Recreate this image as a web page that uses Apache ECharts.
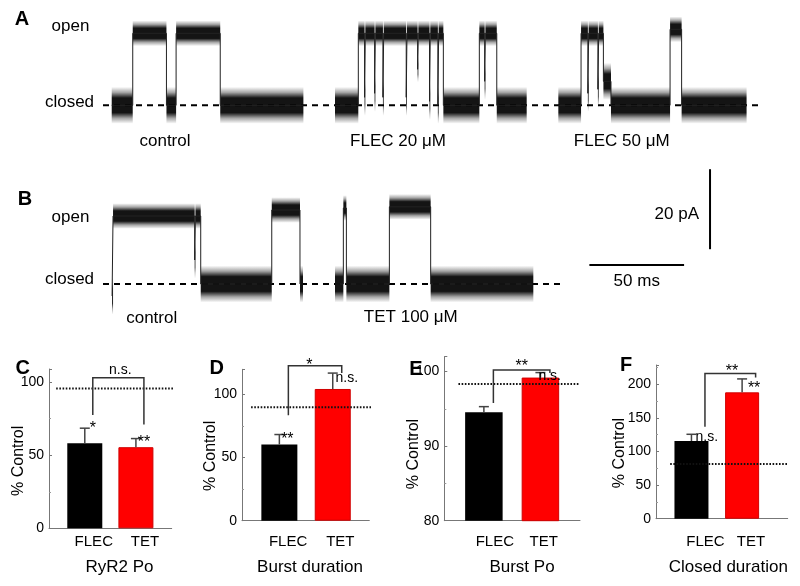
<!DOCTYPE html>
<html><head><meta charset="utf-8">
<script src="https://cdn.jsdelivr.net/npm/echarts@6/dist/echarts.min.js"></script>
<style>html,body{margin:0;padding:0;background:#fff}#c{width:800px;height:586px}</style>
</head><body><div id="c"></div>
<script>
// ---------- DATA ----------
// Single-channel dwell segments: [start (ms), end (ms), current (pA)]
const sweepA_control = [[4.6,15.7,0],[15.7,33.5,18],[33.5,38.6,0],[38.6,61.9,18],[61.9,105.8,0]];
const sweepA_flec20 = [[122.5,134.8,0],[134.8,138.1,18],[138.1,138.5,2],[138.5,143.4,18],[143.4,143.8,3],
  [143.8,147.8,18],[147.8,148.2,2],[148.2,160.1,18],[160.1,160.5,2],[160.5,166.1,18],[166.1,166.5,9],
  [166.5,172.4,18],[172.4,172.8,1],[172.8,176.8,18],[176.8,177.2,0],[177.2,179.7,18],
  [179.7,198.7,0],[198.7,201.5,18],[201.5,201.9,6],[201.9,207.9,18],[207.9,223.7,0]];
const sweepA_flec50 = [[240.4,252.4,0],[252.4,256.0,18],[256.0,256.4,3],[256.4,261.3,18],[261.3,261.7,4],
  [261.7,264.2,18],[264.2,268.2,6],[268.2,299.4,0],[299.4,305.5,19],[305.5,339.8,0]];
const sweepB_control = [[4.8,5.3,-3],[5.3,48.4,17],[48.4,48.8,6],[48.8,51.6,17],[51.6,89.1,0],[89.1,104.0,18.5],[104.0,105.6,0]];
const sweepB_tet100 = [[122.5,126.9,0],[126.9,128.5,19],[128.5,151.2,0],[151.2,173.0,19.3],[173.0,227.2,0]];
const scaleBarCurrent = 20; // pA
const scaleBarTime = 50;    // ms

const barCategories = ['FLEC', 'TET'];
const ryr2PoMean = [58.2, 55.5];
const ryr2PoSEM = [10.3, 5.9];
const ryr2PoRef = 95.6;
const ryr2PoBracket = [103, 77.6, 71];      // [top, left end, right end]
const ryr2PoSig = ['n.s.', '*', '**'];       // [bracket, FLEC, TET]

const burstDurMean = [60.4, 104.4];
const burstDurSEM = [7.9, 12.6];
const burstDurRef = 90;
const burstDurBracket = [122.9, 83.6, 117];
const burstDurSig = ['*', '**', 'n.s.'];

const burstPoMean = [94.55, 99.2];
const burstPoSEM = [0.75, 0.67];
const burstPoRef = 98.35;
const burstPoBracket = [100.2, 95.8, 99.8];
const burstPoSig = ['**', '', 'n.s.'];

const closedDurMean = [115.6, 188];
const closedDurSEM = [10, 20];
const closedDurRef = 81.4;
const closedDurBracket = [216, 137, 210];
const closedDurSig = ['**', 'n.s.', '**'];

// ---------- LAYOUT / STYLE ----------
const FONT = 'Liberation Sans, Arial, Helvetica, sans-serif';
const traceCfg = [
  {grid:{left:103,right:0,top:5.3,height:140}, xmax:368, ymin:-10, ymax:25, baseEnd:347.8,
   sweeps:[sweepA_control, sweepA_flec20, sweepA_flec50]},
  {grid:{left:103,right:0,top:164,height:150}, xmax:368, ymin:-7.5, ymax:30, baseEnd:241.3,
   sweeps:[sweepB_control, sweepB_tet100]}
];
const scaleCfg = {vBarT:320.5, vBarBase:8.7, hBarStart:256.8, hBarY:4.75};

const panels = [
  {grid:{left:49,top:369,width:122.7,height:159.3}, xmax:1.7, ymin:0, ymax:109, interval:50, barW:35,
   mean:ryr2PoMean, sem:ryr2PoSEM, ref:ryr2PoRef, refX:[-0.56,1.76], bracket:ryr2PoBracket, sig:ryr2PoSig,
   bracketDx:8, sigBracketOff:[2,-7.3], sigBarOff:[[8,0.7],[8,4.5]], labelDx:[9,9], labelMargin:6},
  {grid:{left:242,top:369.3,width:127.3,height:151.4}, xmax:1.685, ymin:0, ymax:120, interval:50, barW:36,
   mean:burstDurMean, sem:burstDurSEM, ref:burstDurRef, refX:[-0.53,1.79], bracket:burstDurBracket, sig:burstDurSig,
   bracketDx:9, sigBracketOff:[-5.6,0.4], sigBarOff:[[8,4.7],[14,5]], labelDx:[8.7,7.6], labelMargin:14},
  {grid:{left:444.3,top:356.7,width:135.7,height:164}, xmax:1.70, ymin:80, ymax:102, interval:10, barW:37.5,
   mean:burstPoMean, sem:burstPoSEM, ref:burstPoRef, refX:[-0.45,1.68], bracket:burstPoBracket, sig:burstPoSig,
   bracketDx:9.5, sigBracketOff:[0,-3.5], sigBarOff:[[0,0],[9.3,3.3]], labelDx:[11,3.3], labelMargin:14},
  {grid:{left:656,top:365,width:131.7,height:153.7}, xmax:1.90, ymin:0, ymax:228.7, interval:50, barW:34,
   mean:closedDurMean, sem:closedDurSEM, ref:closedDurRef, refX:[-0.42,1.90], bracket:closedDurBracket, sig:closedDurSig,
   bracketDx:13.5, sigBracketOff:[1.6,-1.8], sigBarOff:[[15.4,2.7],[12,10]], labelDx:[14,8.8], labelMargin:16}
];
const XMIN = -0.7;

// ---------- BUILD OPTION ----------
const grids = [], xAxes = [], yAxes = [], series = [];

function noiseGrad() {
  return new echarts.graphic.LinearGradient(0, 0, 0, 1, [
    {offset:0, color:'rgba(0,0,0,0)'},
    {offset:0.15, color:'rgba(0,0,0,0.35)'},
    {offset:0.3, color:'rgba(0,0,0,0.92)'},
    {offset:0.7, color:'rgba(0,0,0,0.92)'},
    {offset:0.85, color:'rgba(0,0,0,0.35)'},
    {offset:1, color:'rgba(0,0,0,0)'}
  ]);
}

traceCfg.forEach((t, gi) => {
  grids.push(t.grid);
  xAxes.push({type:'value', gridIndex:gi, min:0, max:t.xmax, show:false});
  yAxes.push({type:'value', gridIndex:gi, min:t.ymin, max:t.ymax, show:false});
  // baseline (closed level)
  series.push({type:'line', xAxisIndex:gi, yAxisIndex:gi, data:[[0,0],[t.baseEnd,0]], symbol:'none', silent:true,
    lineStyle:{color:'#000', width:2, type:[6,5]}, z:1});
  t.sweeps.forEach(sw => {
    series.push({type:'custom', xAxisIndex:gi, yAxisIndex:gi, data:sw, clip:false, silent:true, z:2,
      renderItem:(params, api) => {
        const s = api.value(0), e = api.value(1), lv = api.value(2);
        const h = Math.abs(lv) > 8 ? 3.2 : 4.6;
        const p1 = api.coord([s, lv + h]), p2 = api.coord([e, lv - h]);
        return {type:'rect', shape:{x:p1[0], y:p1[1], width:Math.max(p2[0]-p1[0],0), height:p2[1]-p1[1]},
          style:{fill:noiseGrad()}};
      }});
    series.push({type:'line', xAxisIndex:gi, yAxisIndex:gi, symbol:'none', silent:true, z:3,
      data: sw.flatMap(sg => [[sg[0], sg[2]], [sg[1], sg[2]]]),
      lineStyle:{color:'#222', width:1}});
  });
});

// scale bars in sweep-B coordinates
series.push({type:'custom', xAxisIndex:1, yAxisIndex:1, data:[[scaleBarCurrent, scaleBarTime]], clip:false, silent:true,
  renderItem:(params, api) => {
    const pa = api.value(0), ms = api.value(1);
    const v1 = api.coord([scaleCfg.vBarT, scaleCfg.vBarBase]);
    const v2 = api.coord([scaleCfg.vBarT, scaleCfg.vBarBase + pa]);
    const h1 = api.coord([scaleCfg.hBarStart, scaleCfg.hBarY]);
    const h2 = api.coord([scaleCfg.hBarStart + ms, scaleCfg.hBarY]);
    return {type:'group', children:[
      {type:'line', shape:{x1:v1[0], y1:v1[1], x2:v2[0], y2:v2[1]}, style:{stroke:'#000', lineWidth:2}},
      {type:'line', shape:{x1:h1[0], y1:h1[1], x2:h2[0], y2:h2[1]}, style:{stroke:'#000', lineWidth:2}},
      {type:'text', x:v1[0]-11, y:(v1[1]+v2[1])/2 + 5, style:{text: pa + ' pA', font:'17px ' + FONT, fill:'#000', align:'right', verticalAlign:'middle'}},
      {type:'text', x:(h1[0]+h2[0])/2, y:h1[1]+16, style:{text: ms + ' ms', font:'17px ' + FONT, fill:'#000', align:'center', verticalAlign:'middle'}}
    ]};
  }});

panels.forEach((p, k) => {
  const gi = k + 2;
  grids.push(p.grid);
  const ppu = p.grid.width / (p.xmax - XMIN);
  xAxes.push({type:'value', gridIndex:gi, min:XMIN, max:p.xmax,
    axisLine:{show:true, onZero:false, lineStyle:{color:'#777', width:1}},
    axisTick:{show:false}, splitLine:{show:false},
    axisLabel:{customValues:[0 + p.labelDx[0]/ppu, 1 + p.labelDx[1]/ppu],
      formatter:(v) => barCategories[Math.round(v)], margin:p.labelMargin,
      fontSize:15, fontFamily:FONT, color:'#000'}});
  yAxes.push({type:'value', gridIndex:gi, min:p.ymin, max:p.ymax, interval:p.interval,
    axisLine:{show:true, onZero:false, lineStyle:{color:'#777', width:1}},
    axisTick:{show:true, inside:true, length:3, lineStyle:{color:'#777'}},
    minorTick:{show:true, splitNumber:2, length:2, lineStyle:{color:'#999'}},
    splitLine:{show:false}, minorSplitLine:{show:false},
    axisLabel:{showMaxLabel:false, margin:5, fontSize:14, fontFamily:FONT, color:'#000'}});
  series.push({type:'bar', xAxisIndex:gi, yAxisIndex:gi, barWidth:p.barW, clip:true, silent:true,
    data:[{value:[0, p.mean[0]], itemStyle:{color:'#000'}},
          {value:[1, p.mean[1]], itemStyle:{color:'#ff0000', borderColor:'#d00000', borderWidth:1}}]});
  // reference dotted line
  series.push({type:'line', xAxisIndex:gi, yAxisIndex:gi, symbol:'none', clip:false, silent:true, z:4,
    data:[[p.refX[0], p.ref], [p.refX[1], p.ref]], lineStyle:{color:'#111', width:2, type:[1.6,1.6]}});
  // error bars + significance marks
  series.push({type:'custom', xAxisIndex:gi, yAxisIndex:gi, clip:false, silent:true, z:5,
    data: p.mean.map((m, i) => [i, m, m + p.sem[i]]),
    renderItem:(params, api) => {
      const i = api.value(0);
      const b = api.coord([i, api.value(1)]), t = api.coord([i, api.value(2)]);
      const s = p.sig[i + 1];
      const off = p.sigBarOff[i];
      const children = [
        {type:'line', shape:{x1:b[0], y1:b[1], x2:t[0], y2:t[1]}, style:{stroke:'#444', lineWidth:1.5}},
        {type:'line', shape:{x1:t[0]-5, y1:t[1], x2:t[0]+5, y2:t[1]}, style:{stroke:'#444', lineWidth:1.5}}
      ];
      if (s) children.push({type:'text', x:t[0]+off[0], y:t[1]+off[1],
        style:{text:s, font:(s.indexOf('*')>=0 ? '16px ' : '14px ') + FONT, fill:'#000', align:'center', verticalAlign:'middle'}});
      return {type:'group', children};
    }});
  // bracket
  series.push({type:'custom', xAxisIndex:gi, yAxisIndex:gi, clip:false, silent:true, z:5,
    data:[p.bracket],
    renderItem:(params, api) => {
      const top = api.value(0), le = api.value(1), re = api.value(2);
      const a = api.coord([0, le]), b = api.coord([0, top]), c = api.coord([1, top]), d = api.coord([1, re]);
      const dx = p.bracketDx;
      const s = p.sig[0];
      return {type:'group', children:[
        {type:'polyline', shape:{points:[[a[0]+dx,a[1]],[b[0]+dx,b[1]],[c[0]+dx,c[1]],[d[0]+dx,d[1]]]},
          style:{stroke:'#333', lineWidth:1.5, fill:null}},
        {type:'text', x:(b[0]+c[0])/2 + dx + p.sigBracketOff[0], y:b[1] + p.sigBracketOff[1],
          style:{text:s, font:(s.indexOf('*')>=0 ? '16px ' : '14px ') + FONT, fill:'#000', align:'center', verticalAlign:'middle'}}
      ]};
    }});
});

// ---------- TEXT ----------
function txt(text, x, y, size, opts) {
  opts = opts || {};
  return {type:'text', x, y, rotation:opts.rot || 0, silent:true,
    style:{text, font:(opts.bold ? 'bold ' : '') + size + 'px ' + FONT, fill:'#000',
      align:opts.align || 'center', verticalAlign:'middle', textAlign:opts.align || 'center', textVerticalAlign:'middle'}};
}
const graphics = [
  txt('A', 22, 19, 20, {bold:true}), txt('B', 25, 199, 20, {bold:true}),
  txt('C', 22.7, 368.3, 20, {bold:true}), txt('D', 216.7, 368.3, 20, {bold:true}),
  txt('E', 416, 369, 20, {bold:true}), txt('F', 626, 365.5, 20, {bold:true}),
  txt('open', 70.5, 26, 17), txt('closed', 69.5, 102, 17),
  txt('open', 70.5, 217, 17), txt('closed', 69.5, 279, 17),
  txt('control', 165, 141.5, 17), txt('FLEC 20 \u03bcM', 398, 141, 17), txt('FLEC 50 \u03bcM', 621.7, 141, 17),
  txt('control', 151.7, 318, 17), txt('TET 100 \u03bcM', 410.8, 317, 17),
  txt('RyR2 Po', 119.5, 567, 17), txt('Burst duration', 310, 567.5, 17),
  txt('Burst Po', 522, 567, 17), txt('Closed duration', 728.3, 567, 17),
  txt('% Control', 18.3, 460.8, 16, {rot:Math.PI/2}), txt('% Control', 210.8, 455.8, 16, {rot:Math.PI/2}),
  txt('% Control', 414, 454, 16, {rot:Math.PI/2}), txt('% Control', 620, 453, 16, {rot:Math.PI/2})
];

const chart = echarts.init(document.getElementById('c'), null, {renderer:'canvas'});
chart.setOption({
  animation:false,
  backgroundColor:'#fff',
  grid:grids, xAxis:xAxes, yAxis:yAxes, series,
  graphic:{elements:graphics}
});
</script></body></html>
